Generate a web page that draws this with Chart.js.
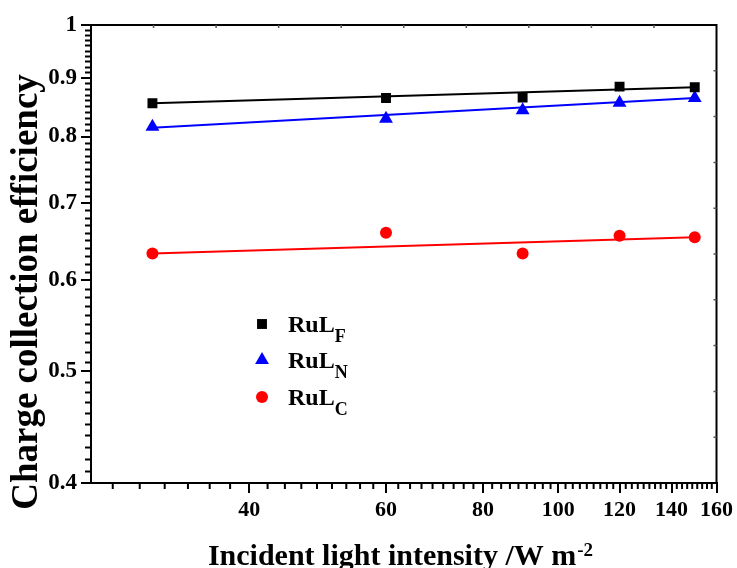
<!DOCTYPE html>
<html>
<head>
<meta charset="utf-8">
<script src="https://cdn.jsdelivr.net/npm/chart.js@4/dist/chart.umd.min.js"></script>
<style>
  html, body { margin: 0; padding: 0; background: #fff; }
  #wrap { width: 737px; height: 568px; }
</style>
</head>
<body>
<div id="wrap"><canvas id="cce"></canvas></div>
<script>
// light intensity (W m-2)
const intensity = [30, 60, 90, 120, 150];

// charge collection efficiency, measured points
const rulF = [0.855, 0.864, 0.865, 0.884, 0.883];
const rulN = [0.816, 0.829, 0.843, 0.856, 0.864];
const rulC = [0.633, 0.660, 0.633, 0.656, 0.654];

// fitted lines (end points)
const fitX = [30, 150];
const fitF = [0.855, 0.883];
const fitN = [0.814, 0.864];
const fitC = [0.633, 0.654];

// axis ticks
const xTicks = [40, 60, 80, 100, 120, 140, 160];
const yTicks = [0.4, 0.5, 0.6, 0.7, 0.8, 0.9, 1];

const SERIF = "'Liberation Serif', 'Times New Roman', serif";

const toPoints = (xs, ys) => xs.map((x, i) => ({ x: x, y: ys[i] }));

const series = [
    { name: "RuL", sub: "F", color: "#000000", style: "rect", radius: 7, data: rulF, fit: fitF },
    { name: "RuL", sub: "N", color: "#0000ff", style: "triangle", radius: 8, data: rulN, fit: fitN },
    { name: "RuL", sub: "C", color: "#ff0000", style: "circle", radius: 6, data: rulC, fit: fitC }
];

const datasets = [];
series.forEach(s => {
    datasets.push({
        label: s.name + s.sub,
        data: toPoints(intensity, s.data),
        showLine: false,
        pointStyle: s.style,
        pointRadius: s.radius,
        pointBackgroundColor: s.color,
        pointBorderColor: s.color,
        pointBorderWidth: 0
    });
});
series.forEach(s => {
    datasets.push({
        label: s.name + s.sub + " fit",
        data: toPoints(fitX, s.fit),
        showLine: true,
        borderColor: s.color,
        borderWidth: 2,
        pointRadius: 0
    });
});

// frame, minor ticks, titles and legend
const decorPlugin = {
    id: "decor",
    afterDraw(chart) {
        const ctx = chart.ctx;
        const a = chart.chartArea;
        const xs = chart.scales.x;
        const ys = chart.scales.y;
        ctx.save();

        // frame
        ctx.strokeStyle = "#000";
        ctx.lineWidth = 2;
        ctx.strokeRect(a.left, a.top, a.right - a.left, a.bottom - a.top);

        // minor ticks on the left axis
        ctx.lineWidth = 2;
        ctx.beginPath();
        for (let k = 41; k < 100; k++) {
            if (k % 10 === 0) continue;
            const py = Math.round(ys.getPixelForValue(k / 100)) + 0.5;
            ctx.moveTo(a.left - 6, py);
            ctx.lineTo(a.left, py);
        }
        // minor ticks on the bottom axis
        const step = 20 / 9;
        for (let k = 1; 40 - k * step > 25; k++) {
            const px = xs.getPixelForValue(40 - k * step);
            ctx.moveTo(px, a.bottom);
            ctx.lineTo(px, a.bottom + 6);
        }
        for (let m = 40; m < 160; m += 20) {
            for (let k = 1; k < 9; k++) {
                const px = xs.getPixelForValue(m + k * step);
                ctx.moveTo(px, a.bottom);
                ctx.lineTo(px, a.bottom + 6);
            }
        }
        ctx.stroke();

        // small inward ticks on top and right sides
        ctx.lineWidth = 1.5;
        ctx.strokeStyle = "#555";
        ctx.beginPath();
        for (let i = 1; i < 10; i++) {
            const px = a.left + (a.right - a.left) * i / 10;
            ctx.moveTo(px, a.top);
            ctx.lineTo(px, a.top + 3);
            const py = a.top + (a.bottom - a.top) * i / 10;
            ctx.moveTo(a.right, py);
            ctx.lineTo(a.right - 3, py);
        }
        ctx.stroke();

        ctx.fillStyle = "#000";

        // y title
        ctx.save();
        ctx.translate(37, 292);
        ctx.rotate(-Math.PI / 2);
        ctx.font = "bold 37px " + SERIF;
        ctx.textAlign = "center";
        ctx.textBaseline = "alphabetic";
        ctx.fillText("Charge collection efficiency", 0, 0);
        ctx.restore();

        // x title with superscript
        const main = "Incident light intensity /W m";
        const sup = "-2";
        ctx.textBaseline = "alphabetic";
        ctx.textAlign = "left";
        ctx.font = "bold 30px " + SERIF;
        const wMain = ctx.measureText(main).width;
        ctx.font = "bold 19px " + SERIF;
        const wSup = ctx.measureText(sup).width;
        const x0 = 400 - (wMain + wSup) / 2;
        ctx.font = "bold 30px " + SERIF;
        ctx.fillText(main, x0, 565);
        ctx.font = "bold 19px " + SERIF;
        ctx.fillText(sup, x0 + wMain + 1, 556);

        // legend
        const rows = [332, 368, 405];
        series.forEach((s, i) => {
            ctx.fillStyle = s.color;
            ctx.strokeStyle = s.color;
            Chart.helpers.drawPoint(ctx, {
                pointStyle: s.style,
                radius: s.radius,
                rotation: 0,
                borderWidth: 0
            }, 262, rows[i] - 8);
            ctx.fillStyle = "#000";
            ctx.font = "bold 24px " + SERIF;
            ctx.fillText(s.name, 288, rows[i]);
            const w = ctx.measureText(s.name).width;
            ctx.font = "bold 18px " + SERIF;
            ctx.fillText(s.sub, 288 + w, rows[i] + 10);
        });

        ctx.restore();
    }
};

new Chart(document.getElementById("cce"), {
    type: "scatter",
    data: { datasets: datasets },
    options: {
        responsive: true,
        maintainAspectRatio: false,
        animation: false,
        layout: { padding: { left: 0, right: 20, top: 25, bottom: 0 } },
        plugins: {
            legend: { display: false },
            tooltip: { enabled: false }
        },
        scales: {
            x: {
                type: "logarithmic",
                min: 25,
                max: 160,
                afterBuildTicks: scale => { scale.ticks = xTicks.map(v => ({ value: v })); },
                afterFit: scale => { scale.height = 85; },
                border: { display: true, color: "#000", width: 2 },
                grid: { drawOnChartArea: false, color: "#000", lineWidth: 2, tickLength: 10 },
                ticks: {
                    color: "#000",
                    padding: 4,
                    maxRotation: 0,
                    autoSkip: false,
                    font: { family: SERIF, size: 22, weight: "bold" },
                    callback: v => String(v)
                }
            },
            y: {
                type: "logarithmic",
                min: 0.4,
                max: 1,
                afterBuildTicks: scale => { scale.ticks = yTicks.map(v => ({ value: v })); },
                afterFit: scale => { scale.width = 91; },
                border: { display: true, color: "#000", width: 2 },
                grid: { drawOnChartArea: false, color: "#000", lineWidth: 2, tickLength: 10 },
                ticks: {
                    color: "#000",
                    padding: 4,
                    autoSkip: false,
                    font: { family: SERIF, size: 23, weight: "bold" },
                    callback: v => String(Math.round(v * 10) / 10)
                }
            }
        }
    },
    plugins: [decorPlugin]
});
</script>
</body>
</html>
